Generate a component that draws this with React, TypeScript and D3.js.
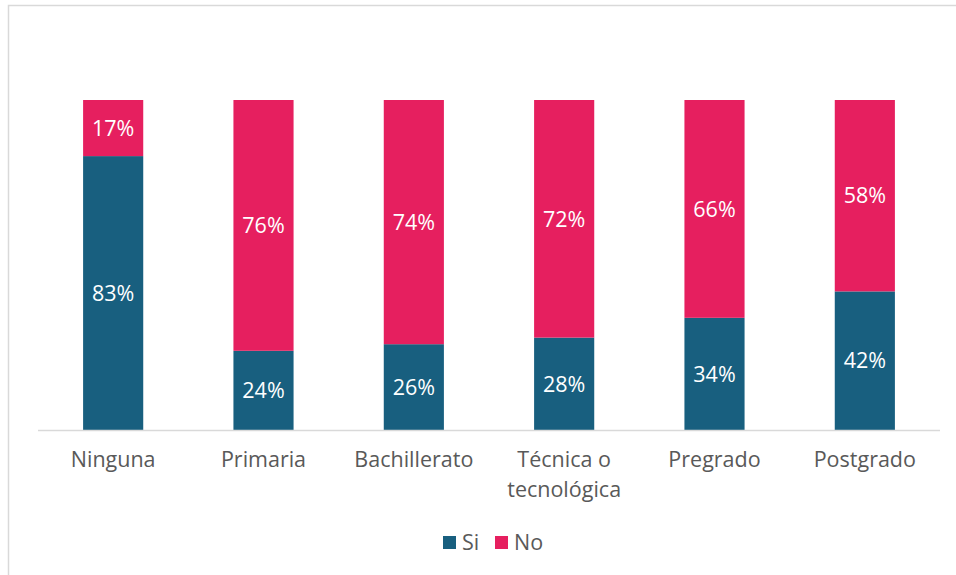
import React from "react";
import * as d3 from "d3";

const categories = ["Ninguna", "Primaria", "Bachillerato", "Técnica o tecnológica", "Pregrado", "Postgrado"];
const categoryLines = [["Ninguna"], ["Primaria"], ["Bachillerato"], ["Técnica o", "tecnológica"], ["Pregrado"], ["Postgrado"]];
const siValues = [83, 24, 26, 28, 34, 42];
const noValues = [17, 76, 74, 72, 66, 58];
const seriesNames = ["Si", "No"];
const seriesColors = ["#185F7F", "#E61F5F"];

const W = 956;
const H = 575;
const left = 38;
const right = 940;
const top = 100;
const bottom = 430;
const font = "'Open Sans', 'Liberation Sans', sans-serif";
const fs = 21.5;

export default function App() {
  const x = d3.scaleBand<string>().domain(categories).range([left, right]).paddingInner(0.6).paddingOuter(0.3);
  const y = d3.scaleLinear().domain([0, 100]).range([bottom, top]);
  const stackData = categories.map((c, i) => ({ cat: c, Si: siValues[i], No: noValues[i] }));
  const stack = d3.stack<any>().keys(seriesNames)(stackData);

  return (
    <svg width={W} height={H} style={{ position: "fixed", left: 0, top: 0, background: "#fff" }}>
      <rect x={8.5} y={5.5} width={W + 20} height={H + 20} fill="#fff" stroke="#d9d9d9" strokeWidth={1.5} />
      {stack.map((s, si) => (
        <g key={s.key}>
          {s.map((d, i) => {
            const x0 = x(categories[i])!;
            const y0 = y(d[1]);
            const h = y(d[0]) - y(d[1]);
            const v = si === 0 ? siValues[i] : noValues[i];
            return (
              <g key={i}>
                <rect x={x0} y={y0} width={x.bandwidth()} height={h} fill={seriesColors[si]} />
                <text x={x0 + x.bandwidth() / 2} y={y0 + h / 2} dy="0.36em" textAnchor="middle" fill="#fff" fontFamily={font} fontSize={fs}>
                  {v}%
                </text>
              </g>
            );
          })}
        </g>
      ))}
      <line x1={left} x2={right} y1={bottom + 0.5} y2={bottom + 0.5} stroke="#d9d9d9" strokeWidth={1.5} />
      {categories.map((c, i) => {
        const cx = x(c)! + x.bandwidth() / 2;
        return (
          <text key={c} x={cx} y={467} textAnchor="middle" fill="#595959" fontFamily={font} fontSize={fs}>
            {categoryLines[i].map((ln, j) => (
              <tspan key={j} x={cx} dy={j === 0 ? 0 : 30}>{ln}</tspan>
            ))}
          </text>
        );
      })}
      <g>
        {seriesNames.map((n, i) => {
          const lx = i === 0 ? 443 : 495;
          return (
            <g key={n}>
              <rect x={lx} y={536} width={13} height={13} fill={seriesColors[i]} />
              <text x={lx + 19} y={550} fill="#595959" fontFamily={font} fontSize={fs}>{n}</text>
            </g>
          );
        })}
      </g>
    </svg>
  );
}
